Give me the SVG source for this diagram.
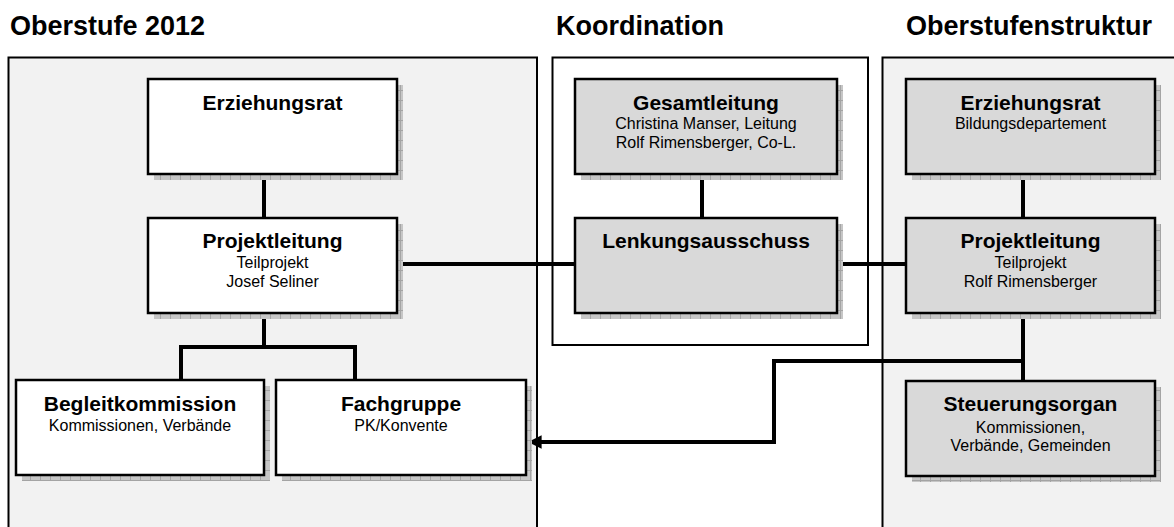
<svg xmlns="http://www.w3.org/2000/svg" width="1174" height="527" viewBox="0 0 1174 527">
<style>
.hdr{font-family:"Liberation Sans",Arial,sans-serif;font-weight:bold;font-size:27px;fill:#000}
.t{font-family:"Liberation Sans",Arial,sans-serif;font-weight:bold;font-size:21px;fill:#000;text-anchor:middle}
.s{font-family:"Liberation Sans",Arial,sans-serif;font-size:16px;fill:#000;text-anchor:middle}
.panel{stroke:#000;stroke-width:2}
.box{stroke:#000;stroke-width:2.5}
.w{fill:#fff}
.g{fill:#d9d9d9}
.sh{fill:url(#hatch)}
.c{fill:none;stroke:#000;stroke-width:4;stroke-linejoin:miter}
</style>
<defs>
<pattern id="hatch" width="10" height="10" patternUnits="userSpaceOnUse">
<rect width="10" height="10" fill="#c6c6c6"/>
<path d="M0.5 0V10M0 0.5H10" stroke="#a4a4a4" stroke-width="1"/>
</pattern>
<marker id="arr" viewBox="0 0 10 10" refX="10" refY="5" markerWidth="3.6" markerHeight="3.4" orient="auto" markerUnits="strokeWidth">
<path d="M0 0L10 5L0 10z" fill="#000"/>
</marker>
</defs>
<rect width="1174" height="527" fill="#fff"/>
<text class="hdr" x="10" y="35">Oberstufe 2012</text>
<text class="hdr" x="556" y="35">Koordination</text>
<text class="hdr" x="906" y="35">Oberstufenstruktur</text>
<g id="panel-oberstufe"><rect class="panel" x="8.5" y="57.5" width="528.5" height="480" fill="#f2f2f2"/></g>
<g id="panel-koordination"><rect class="panel" x="552.5" y="57.5" width="315.5" height="287.5" fill="#fff"/></g>
<g id="panel-struktur"><rect class="panel" x="882.5" y="57.5" width="300" height="480" fill="#f2f2f2"/></g>
<g id="connectors">
<path class="c" d="M264 174V218"/>
<path class="c" d="M264 313V347M181 380V347H355V380"/>
<path class="c" d="M397 264H575"/>
<path class="c" d="M837 264H906"/>
<path class="c" d="M702 174V218"/>
<path class="c" d="M1023 174V218"/>
<path class="c" d="M1023 313V380"/>
<path class="c" d="M1023 361H774V442H528" marker-end="url(#arr)"/>
</g>
<g id="erziehungsrat-l">
<rect class="sh" x="154" y="85" width="249" height="95"/>
<rect class="box w" x="148" y="79" width="249" height="95"/>
<text class="t" x="272.5" y="110">Erziehungsrat</text>
</g>
<g id="projektleitung-l">
<rect class="sh" x="154" y="224" width="249" height="95"/>
<rect class="box w" x="148" y="218" width="249" height="95"/>
<text class="t" x="272.5" y="248">Projektleitung</text>
<text class="s" x="272.5" y="268">Teilprojekt</text>
<text class="s" x="272.5" y="287">Josef Seliner</text>
</g>
<g id="begleitkommission">
<rect class="sh" x="22" y="386" width="248" height="95"/>
<rect class="box w" x="16" y="380" width="248" height="95"/>
<text class="t" x="140" y="411">Begleitkommission</text>
<text class="s" x="140" y="431">Kommissionen, Verbände</text>
</g>
<g id="fachgruppe">
<rect class="sh" x="282" y="386" width="250" height="95"/>
<rect class="box w" x="276" y="380" width="250" height="95"/>
<text class="t" x="401" y="411">Fachgruppe</text>
<text class="s" x="401" y="431">PK/Konvente</text>
</g>
<g id="gesamtleitung">
<rect class="sh" x="581" y="85" width="262" height="95"/>
<rect class="box g" x="575" y="79" width="262" height="95"/>
<text class="t" x="706" y="110">Gesamtleitung</text>
<text class="s" x="706" y="129">Christina Manser, Leitung</text>
<text class="s" x="706" y="148">Rolf Rimensberger, Co-L.</text>
</g>
<g id="lenkungsausschuss">
<rect class="sh" x="581" y="224" width="262" height="95"/>
<rect class="box g" x="575" y="218" width="262" height="95"/>
<text class="t" x="706" y="248">Lenkungsausschuss</text>
</g>
<g id="erziehungsrat-r">
<rect class="sh" x="912" y="85" width="249" height="95"/>
<rect class="box g" x="906" y="79" width="249" height="95"/>
<text class="t" x="1030.5" y="110">Erziehungsrat</text>
<text class="s" x="1030.5" y="129">Bildungsdepartement</text>
</g>
<g id="projektleitung-r">
<rect class="sh" x="912" y="224" width="249" height="95"/>
<rect class="box g" x="906" y="218" width="249" height="95"/>
<text class="t" x="1030.5" y="248">Projektleitung</text>
<text class="s" x="1030.5" y="268">Teilprojekt</text>
<text class="s" x="1030.5" y="287">Rolf Rimensberger</text>
</g>
<g id="steuerungsorgan">
<rect class="sh" x="912" y="387" width="249" height="95"/>
<rect class="box g" x="906" y="381" width="249" height="95"/>
<text class="t" x="1030.5" y="411">Steuerungsorgan</text>
<text class="s" x="1030.5" y="433">Kommissionen,</text>
<text class="s" x="1030.5" y="451">Verbände, Gemeinden</text>
</g>
</svg>
